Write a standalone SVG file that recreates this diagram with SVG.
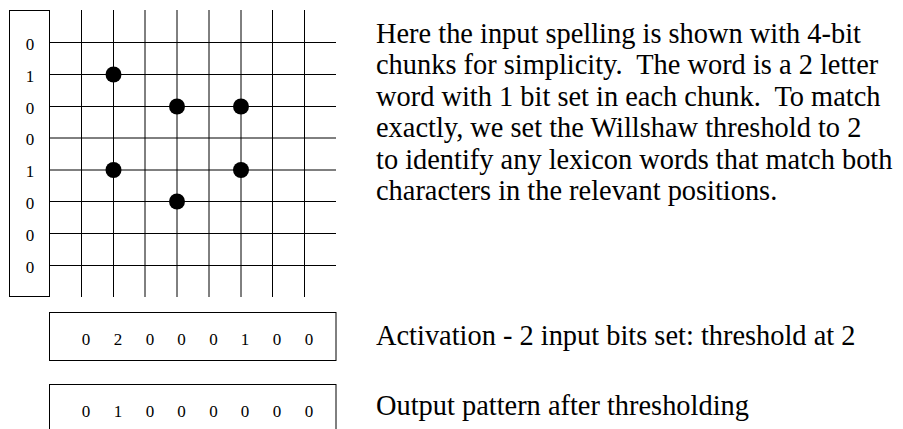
<svg xmlns="http://www.w3.org/2000/svg" width="903" height="429" viewBox="0 0 903 429">
<style>
.box{fill:none;stroke:#000;stroke-width:1}
.ln{stroke:#000;stroke-width:1}
.d{font-family:"Liberation Serif","Times New Roman",serif;font-size:17px;fill:#000;text-anchor:middle}
.t{font-family:"Liberation Serif","Times New Roman",serif;font-size:28.4px;fill:#000}
.dot{fill:#000}
</style>
<rect width="903" height="429" fill="#fff"/>
<g id="input">
<rect class="box" x="9.5" y="10.5" width="40" height="286"/>
<text class="d" x="30" y="49.5">0</text>
<text class="d" x="30" y="81.5">1</text>
<text class="d" x="30" y="113.5">0</text>
<text class="d" x="30" y="145">0</text>
<text class="d" x="30" y="177">1</text>
<text class="d" x="30" y="208.5">0</text>
<text class="d" x="30" y="240.5">0</text>
<text class="d" x="30" y="272.5">0</text>
</g>
<g id="connectors">
<line class="ln" x1="49.5" y1="42.5" x2="336" y2="42.5"/>
<line class="ln" x1="49.5" y1="74.5" x2="336" y2="74.5"/>
<line class="ln" x1="49.5" y1="106.5" x2="336" y2="106.5"/>
<line class="ln" x1="49.5" y1="138" x2="336" y2="138"/>
<line class="ln" x1="49.5" y1="170" x2="336" y2="170"/>
<line class="ln" x1="49.5" y1="201.5" x2="336" y2="201.5"/>
<line class="ln" x1="49.5" y1="233.5" x2="336" y2="233.5"/>
<line class="ln" x1="49.5" y1="265.5" x2="336" y2="265.5"/>
<line class="ln" x1="81.5" y1="10" x2="81.5" y2="297"/>
<line class="ln" x1="113.5" y1="10" x2="113.5" y2="297"/>
<line class="ln" x1="145" y1="10" x2="145" y2="297"/>
<line class="ln" x1="177" y1="10" x2="177" y2="297"/>
<line class="ln" x1="209" y1="10" x2="209" y2="297"/>
<line class="ln" x1="241" y1="10" x2="241" y2="297"/>
<line class="ln" x1="272.5" y1="10" x2="272.5" y2="297"/>
<line class="ln" x1="304.5" y1="10" x2="304.5" y2="297"/>
</g>
<g id="synapses">
<circle class="dot" cx="113.5" cy="74.5" r="8"/>
<circle class="dot" cx="177" cy="106.5" r="8"/>
<circle class="dot" cx="241" cy="106.5" r="8"/>
<circle class="dot" cx="113.5" cy="170" r="8"/>
<circle class="dot" cx="241" cy="170" r="8"/>
<circle class="dot" cx="177" cy="201.5" r="8"/>
</g>
<g id="activation">
<rect class="box" x="49.5" y="312.5" width="286.5" height="48"/>
<text class="d" x="86" y="345">0</text>
<text class="d" x="118" y="345">2</text>
<text class="d" x="150" y="345">0</text>
<text class="d" x="181.5" y="345">0</text>
<text class="d" x="213.5" y="345">0</text>
<text class="d" x="245" y="345">1</text>
<text class="d" x="277" y="345">0</text>
<text class="d" x="309" y="345">0</text>
</g>
<g id="output">
<rect class="box" x="49.5" y="384.5" width="286.5" height="48"/>
<text class="d" x="86" y="416.5">0</text>
<text class="d" x="118" y="416.5">1</text>
<text class="d" x="150" y="416.5">0</text>
<text class="d" x="181.5" y="416.5">0</text>
<text class="d" x="213.5" y="416.5">0</text>
<text class="d" x="245" y="416.5">0</text>
<text class="d" x="277" y="416.5">0</text>
<text class="d" x="309" y="416.5">0</text>
</g>
<g id="description">
<text class="t" x="376" y="42.5" xml:space="preserve">Here the input spelling is shown with 4-bit</text>
<text class="t" x="376" y="74" xml:space="preserve">chunks for simplicity.  The word is a 2 letter</text>
<text class="t" x="376" y="105.5" xml:space="preserve">word with 1 bit set in each chunk.  To match</text>
<text class="t" x="376" y="137" xml:space="preserve">exactly, we set the Willshaw threshold to 2</text>
<text class="t" x="376" y="168.5" xml:space="preserve">to identify any lexicon words that match both</text>
<text class="t" x="376" y="200" xml:space="preserve">characters in the relevant positions.</text>
</g>
<g id="labels">
<text class="t" x="376" y="345">Activation - 2 input bits set: threshold at 2</text>
<text class="t" x="376" y="415">Output pattern after thresholding</text>
</g>
</svg>
